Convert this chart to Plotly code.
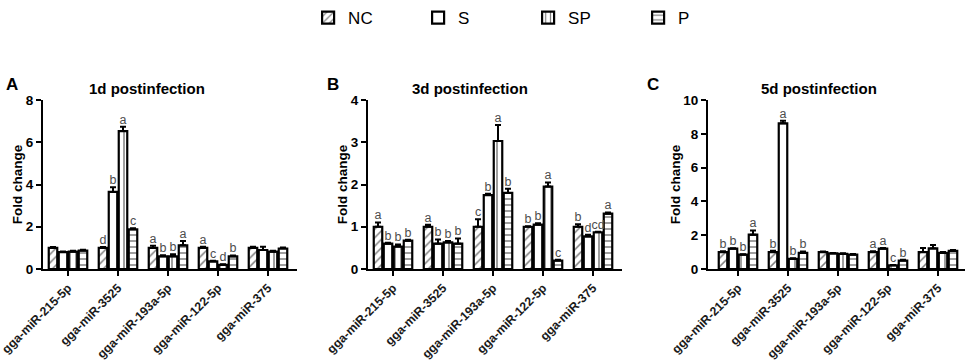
import plotly.graph_objects as go

categories = ["gga-miR-215-5p", "gga-miR-3525", "gga-miR-193a-5p", "gga-miR-122-5p", "gga-miR-375"]
series = ["NC", "S", "SP", "P"]
patterns = {"NC": "/", "S": "", "SP": "|", "P": "-"}

# Panel A: 1d postinfection
a_vals = {"NC": [1.0, 1.0, 1.0, 1.0, 1.0],
          "S": [0.8, 3.65, 0.6, 0.36, 0.9],
          "SP": [0.82, 6.53, 0.6, 0.2, 0.82],
          "P": [0.87, 1.88, 1.12, 0.6, 0.97]}
a_err = {"NC": [0.04, 0.04, 0.1, 0.05, 0.05],
         "S": [0.03, 0.22, 0.05, 0.03, 0.15],
         "SP": [0.04, 0.2, 0.1, 0.02, 0.04],
         "P": [0.04, 0.05, 0.2, 0.04, 0.05]}
a_let = {"NC": ["", "d", "a", "a", ""],
         "S": ["", "b", "b", "c", ""],
         "SP": ["", "a", "b", "d", ""],
         "P": ["", "c", "a", "b", ""]}

# Panel B: 3d postinfection
b_vals = {"NC": [1.0, 1.0, 1.0, 1.0, 1.0],
          "S": [0.6, 0.6, 1.75, 1.05, 0.77],
          "SP": [0.53, 0.63, 3.03, 1.95, 0.87],
          "P": [0.67, 0.6, 1.8, 0.2, 1.31]}
b_err = {"NC": [0.1, 0.05, 0.18, 0.01, 0.06],
         "S": [0.02, 0.1, 0.03, 0.03, 0.04],
         "SP": [0.05, 0.03, 0.38, 0.1, 0.01],
         "P": [0.02, 0.12, 0.1, 0.02, 0.03]}
b_let = {"NC": ["a", "a", "c", "b", "b"],
         "S": ["b", "b", "b", "b", "d"],
         "SP": ["b", "b", "a", "a", "cd"],
         "P": ["b", "b", "b", "c", "a"]}

# Panel C: 5d postinfection
c_vals = {"NC": [1.0, 1.0, 1.0, 1.0, 1.0],
          "S": [1.2, 8.62, 0.92, 1.2, 1.22],
          "SP": [0.85, 0.6, 0.9, 0.22, 0.95],
          "P": [2.03, 0.95, 0.85, 0.5, 1.07]}
c_err = {"NC": [0.05, 0.08, 0.04, 0.05, 0.25],
         "S": [0.03, 0.15, 0.03, 0.04, 0.2],
         "SP": [0.03, 0.04, 0.03, 0.02, 0.05],
         "P": [0.25, 0.08, 0.04, 0.04, 0.05]}
c_let = {"NC": ["b", "b", "", "a", ""],
         "S": ["b", "a", "", "a", ""],
         "SP": ["b", "b", "", "c", ""],
         "P": ["a", "b", "", "b", ""]}

panels = [
    ("A", "1d postinfection", a_vals, a_err, a_let, [0, 8], 2, [-0.5, 4.58], [43, 297], 0.41, 4),
    ("B", "3d postinfection", b_vals, b_err, b_let, [0, 4], 1, [-0.5, 4.58], [368, 622], 0.40, 325),
    ("C", "5d postinfection", c_vals, c_err, c_let, [0, 10], 2, [-0.6, 4.54], [708, 965], 0.43, 645),
]

W, H = 969, 362
FONT = "Arial, Liberation Sans, sans-serif"
y0_px, y1_px = 269, 100
ydom = [1 - y0_px / H, 1 - y1_px / H]

fig = go.Figure()
offsets = [-0.3, -0.1, 0.1, 0.3]
bw = 0.17

for p, (letter, title, vals, errs, lets, yr, dt, xr, xpx, tx, lx) in enumerate(panels):
    ax = "" if p == 0 else str(p + 1)
    for k, s in enumerate(series):
        xs = [i + offsets[k] for i in range(len(categories))]
        fig.add_trace(go.Bar(
            x=xs, y=vals[s], width=bw, name=s,
            showlegend=(p == 0), legendgroup=s,
            xaxis="x" + ax, yaxis="y" + ax,
            marker=dict(color="white",
                        line=dict(color="black", width=2.2),
                        pattern=dict(shape=patterns[s], fgcolor="black", bgcolor="white",
                                     size=6, solidity=0.25)),
            error_y=dict(type="data", symmetric=False, array=errs[s],
                         arrayminus=[0] * len(errs[s]),
                         color="black", thickness=2, width=3),
        ))
        ty = [v + e for v, e in zip(vals[s], errs[s])]
        fig.add_trace(go.Scatter(
            x=xs, y=ty, text=lets[s], mode="text", textposition="top center",
            textfont=dict(size=12.5, color="#4d4d4d", family=FONT),
            showlegend=False, xaxis="x" + ax, yaxis="y" + ax, hoverinfo="skip",
        ))
    fig.update_layout(**{
        "xaxis" + ax: dict(domain=[xpx[0] / W, xpx[1] / W], range=xr, automargin=False,
                           tickvals=list(range(len(categories))), ticktext=categories,
                           tickangle=-45, showline=True, linecolor="black", linewidth=2,
                           ticks="outside", ticklen=5, tickwidth=1.5, tickcolor="black",
                           ticklabeloverflow="allow",
                           tickfont=dict(size=12.3, weight="bold", family=FONT, color="#1a1a1a"),
                           showgrid=False, zeroline=False, anchor="y" + ax),
        "yaxis" + ax: dict(domain=ydom, range=yr, dtick=dt, automargin=False,
                           showline=True, linecolor="black", linewidth=2,
                           ticks="outside", ticklen=5, tickwidth=1.5, tickcolor="black",
                           tickfont=dict(size=13.5, weight="bold", family=FONT, color="black"),
                           title=dict(text="<b>Fold change</b>", font=dict(size=13.5, family=FONT, color="black"),
                                      standoff=0),
                           showgrid=False, zeroline=False, anchor="x" + ax),
    })
    fig.add_annotation(text="<b>" + title + "</b>", xref="x" + ax + " domain", yref="paper",
                       x=tx, y=1 - 78 / H, showarrow=False,
                       font=dict(size=15, family=FONT, color="black"))
    fig.add_annotation(text="<b>" + letter + "</b>", xref="paper", yref="paper",
                       x=lx / W, y=1 - 73 / H, xanchor="left", showarrow=False,
                       font=dict(size=17, family=FONT, color="black"))

fig.update_layout(
    width=W, height=H, margin=dict(l=0, r=0, t=0, b=0),
    plot_bgcolor="white", paper_bgcolor="white",
    barmode="overlay",
    font=dict(family=FONT, color="black"),
    legend=dict(orientation="h", x=0.545, xanchor="center", y=1.0, yanchor="top",
                font=dict(size=17, family=FONT), entrywidth=65, entrywidthmode="pixels"),
)

fig.write_html("out.html", config={"displayModeBar": False},
               post_script="document.body.style.margin='0';document.body.style.overflow='hidden';")
